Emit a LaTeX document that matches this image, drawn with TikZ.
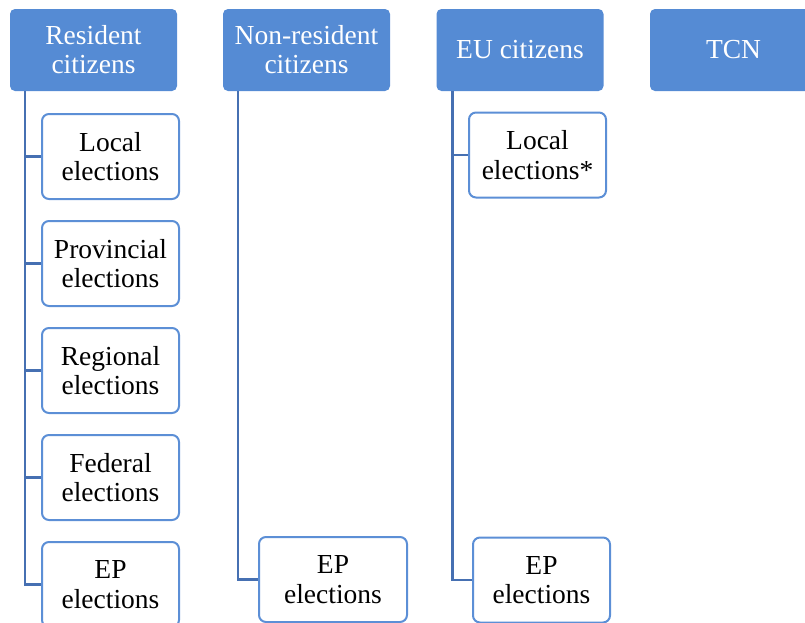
\documentclass[tikz,border=0pt]{standalone}
\usepackage{fontspec}
\setmainfont{Liberation Serif}
\usepackage{xcolor}
\definecolor{headblue}{RGB}{85,139,212}
\definecolor{boxblue}{RGB}{92,143,214}
\definecolor{lineblue}{RGB}{70,112,178}

\tikzset{
  header/.style={draw=none, fill=headblue, rounded corners=5pt, text=white,
    minimum width=167pt, minimum height=82pt, align=center, inner sep=2pt,
    font=\fontsize{27.5}{29}\selectfont},
  elec/.style={draw=boxblue, line width=2pt, fill=white, rounded corners=7pt,
    minimum height=85pt, align=center, inner sep=2pt,
    font=\fontsize{27.5}{29.5}\selectfont},
  link/.style={draw=lineblue, line width=2.5pt}
}

\begin{document}
\begin{tikzpicture}[x=1pt, y=-1pt]
  \useasboundingbox (0,0) rectangle (805,622);
  \clip (0,0) rectangle (805,622);

  % groups
  \node[header] (res) at (93.5,50) {Resident\\citizens};
  \node[header] (nonres) at (306.5,50) {Non-resident\\citizens};
  \node[header] (eu) at (520,50) {EU citizens};
  \node[header] (tcn) at (733.5,50) {TCN};

  % resident citizens
  \node[elec, minimum width=137pt] (resloc) at (110.5,156.5) {Local\\elections};
  \node[elec, minimum width=137pt] (resprov) at (110.5,263.5) {Provincial\\elections};
  \node[elec, minimum width=137pt] (resreg) at (110.5,370.5) {Regional\\elections};
  \node[elec, minimum width=137pt] (resfed) at (110.5,477.5) {Federal\\elections};
  \node[elec, minimum width=137pt] (resep) at (110.5,584.5) {EP\\elections};

  % non-resident citizens
  \node[elec, minimum width=148pt] (nonep) at (333,579.5) {EP\\elections};

  % EU citizens
  \node[elec, minimum width=137pt] (euloc) at (537.5,155) {Local\\elections*};
  \node[elec, minimum width=137pt] (euep) at (541.5,580) {EP\\elections};

  \draw[link] ([xshift=15pt]res.south west) |- (resep.west);
  \draw[link] ([xshift=15pt]res.south west) |- (resloc.west);
  \draw[link] ([xshift=15pt]res.south west) |- (resprov.west);
  \draw[link] ([xshift=15pt]res.south west) |- (resreg.west);
  \draw[link] ([xshift=15pt]res.south west) |- (resfed.west);
  \draw[link] ([xshift=15pt]nonres.south west) |- (nonep.west);
  \draw[link] ([xshift=16pt]eu.south west) |- (euep.west);
  \draw[link] ([xshift=16pt]eu.south west) |- (euloc.west);
\end{tikzpicture}
\end{document}
